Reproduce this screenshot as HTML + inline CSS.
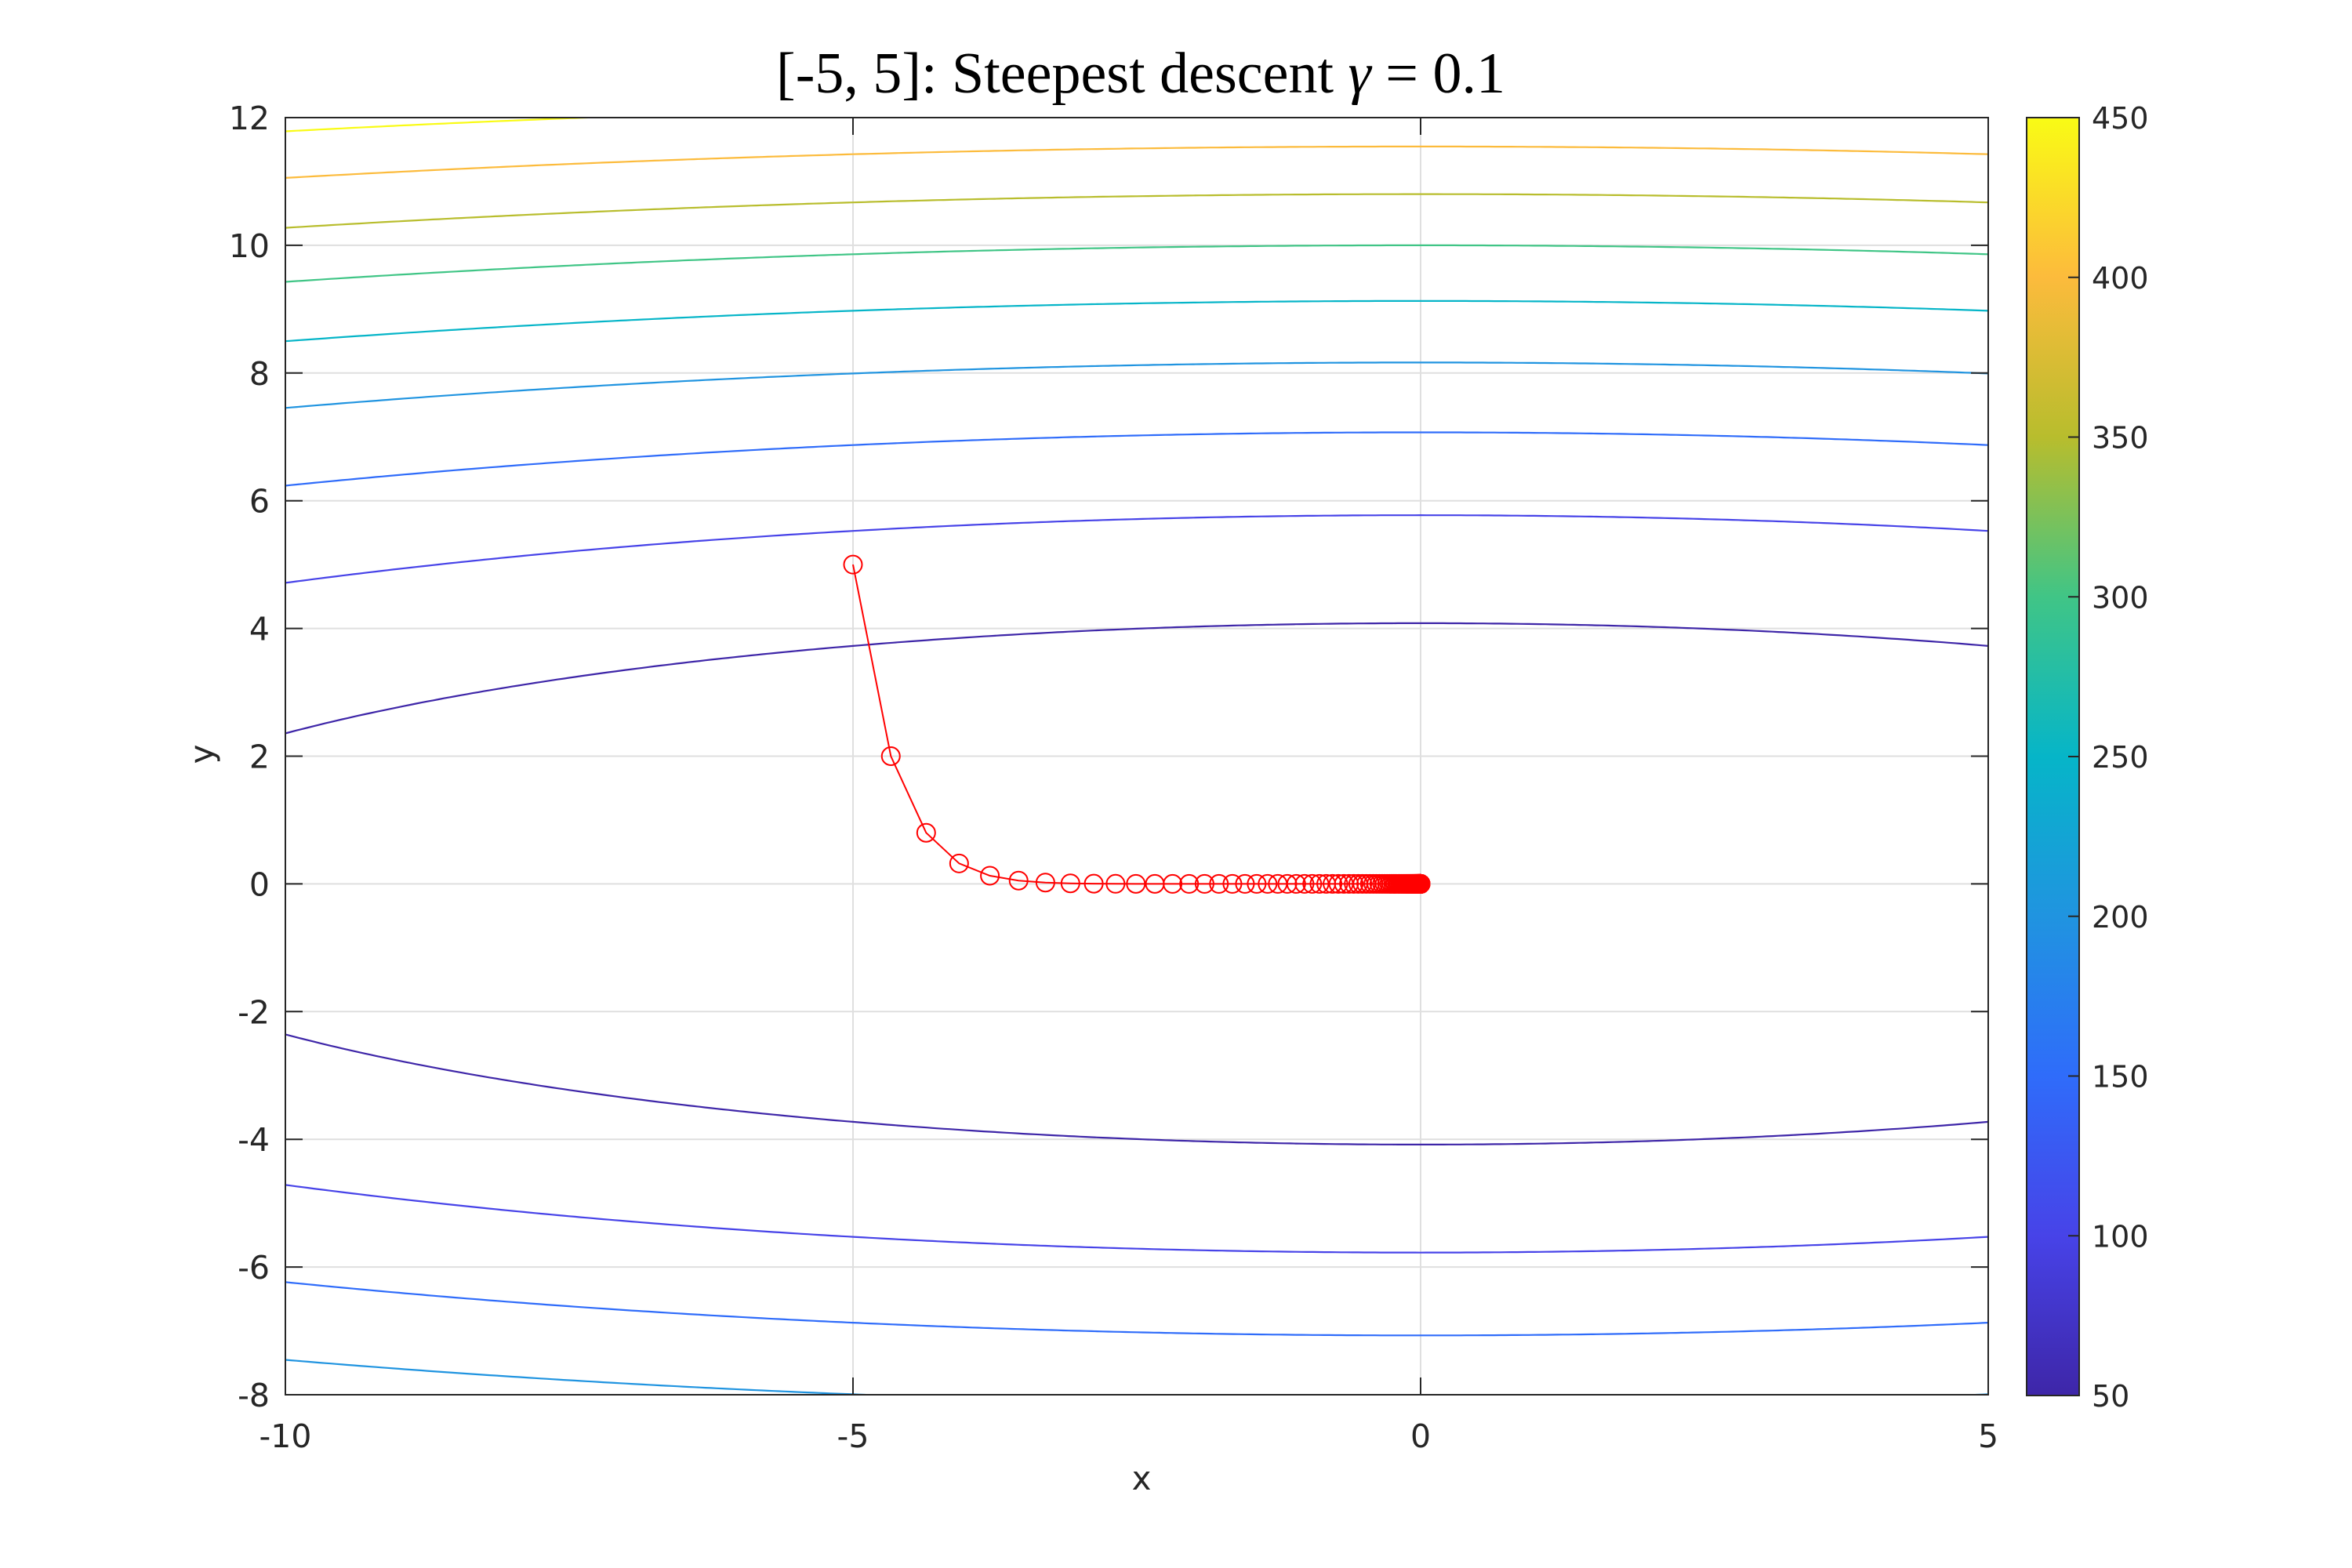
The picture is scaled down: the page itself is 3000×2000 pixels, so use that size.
<!DOCTYPE html>
<html><head><style>
html,body{margin:0;padding:0;background:#fff;overflow:hidden;width:3000px;height:2000px;}
svg{display:block;}
svg text{font-family:"DejaVu Sans","Liberation Sans",sans-serif;fill:#262626;}
</style></head><body>
<svg id="s" width="3000" height="2000" xmlns="http://www.w3.org/2000/svg">
<defs>
<linearGradient id="parula" x1="0" y1="1" x2="0" y2="0">
<stop offset="0" stop-color="#3e26a8"/>
<stop offset="0.125" stop-color="#4743e8"/>
<stop offset="0.25" stop-color="#2f6cfa"/>
<stop offset="0.375" stop-color="#2094e0"/>
<stop offset="0.5" stop-color="#06b5c8"/>
<stop offset="0.625" stop-color="#40c586"/>
<stop offset="0.75" stop-color="#b8bd2d"/>
<stop offset="0.875" stop-color="#fcbb3c"/>
<stop offset="1" stop-color="#f9fb15"/>
</linearGradient>
<clipPath id="ax"><rect x="364" y="150" width="2172" height="1629"/></clipPath>
</defs>
<g id="grid"></g>
<g id="cont" clip-path="url(#ax)"></g>
<g id="path"></g>
<rect x="364" y="150" width="2172" height="1629" fill="none" stroke="#262626" stroke-width="2"/>
<g id="ticks"></g>
<text x="1455" y="118" font-size="74" text-anchor="middle" style="font-family:'Liberation Serif',serif;fill:#000">[-5, 5]: Steepest descent <tspan font-style="italic">γ</tspan> = 0.1</text>
<text x="1456" y="1900" font-size="42" text-anchor="middle">x</text>
<text x="0" y="0" font-size="42" text-anchor="middle" transform="translate(272,962) rotate(-90)">y</text>
<rect x="2585" y="150" width="67" height="1630" fill="url(#parula)" stroke="#262626" stroke-width="2"/>
<g id="cb"></g>
</svg>
<script>
const NS="http://www.w3.org/2000/svg";
const X=x=>364+(x+10)*144.8, Y=y=>150+(12-y)*81.45;
function el(p,t,a,txt){const e=document.createElementNS(NS,t);for(const k in a)e.setAttribute(k,a[k]);if(txt!==undefined)e.textContent=txt;document.getElementById(p).appendChild(e);return e;}
[-10,-5,0,5].forEach(v=>{const x=X(v);
 if(v>-10&&v<5)el('grid','line',{x1:x,y1:150,x2:x,y2:1779,stroke:'#dfdfdf','stroke-width':2});
 el('ticks','line',{x1:x,y1:1779,x2:x,y2:1757,stroke:'#262626','stroke-width':2});
 el('ticks','line',{x1:x,y1:150,x2:x,y2:172,stroke:'#262626','stroke-width':2});
 el('ticks','text',{x:x,y:1846,'font-size':41,'text-anchor':'middle'},String(v));});
for(let v=-8;v<=12;v+=2){const y=Y(v);
 if(v>-8&&v<12)el('grid','line',{x1:364,y1:y,x2:2536,y2:y,stroke:'#dfdfdf','stroke-width':2});
 el('ticks','line',{x1:364,y1:y,x2:386,y2:y,stroke:'#262626','stroke-width':2});
 el('ticks','line',{x1:2536,y1:y,x2:2514,y2:y,stroke:'#262626','stroke-width':2});
 el('ticks','text',{x:344,y:y+15,'font-size':41,'text-anchor':'end'},String(v));}
const cm=[[62,38,168],[71,67,232],[47,108,250],[32,148,224],[6,181,200],[64,197,134],[184,189,45],[252,187,60],[249,251,21]];
function col(t){t=Math.max(0,Math.min(1,t))*8;const i=Math.min(7,Math.floor(t)),f=t-i;const a=cm[i],b=cm[i+1];return 'rgb('+a.map((v,k)=>Math.round(v+(b[k]-v)*f)).join(',')+')';}
for(let L=50;L<=450;L+=50){const c=col((L-50)/400);
 [1,-1].forEach(s=>{let d='';for(let i=0;i<=300;i++){const x=-10+15*i/300;const r=(L-x*x/3)/3;if(r<0)continue;const y=s*Math.sqrt(r);d+=(d?'L':'M')+X(x).toFixed(1)+','+Y(y).toFixed(1);}
 el('cont','path',{d:d,fill:'none',stroke:c,'stroke-width':2.2});});}
let x=-5,y=5,pts=[[x,y]];for(let k=0;k<150;k++){x=x-0.1*(2*x/3);y=y-0.1*6*y;pts.push([x,y]);}
el('path','polyline',{points:pts.map(p=>X(p[0]).toFixed(1)+','+Y(p[1]).toFixed(1)).join(' '),fill:'none',stroke:'#ff0000','stroke-width':2});
pts.forEach(p=>el('path','circle',{cx:X(p[0]),cy:Y(p[1]),r:11.5,fill:'none',stroke:'#ff0000','stroke-width':2}));
for(let v=50;v<=450;v+=50){const y=1780-(v-50)/400*1630;
 el('cb','line',{x1:2652,y1:y,x2:2638,y2:y,stroke:'#262626','stroke-width':2});
 el('cb','text',{x:2668,y:y+14,'font-size':38},String(v));}
</script>
</body></html>
